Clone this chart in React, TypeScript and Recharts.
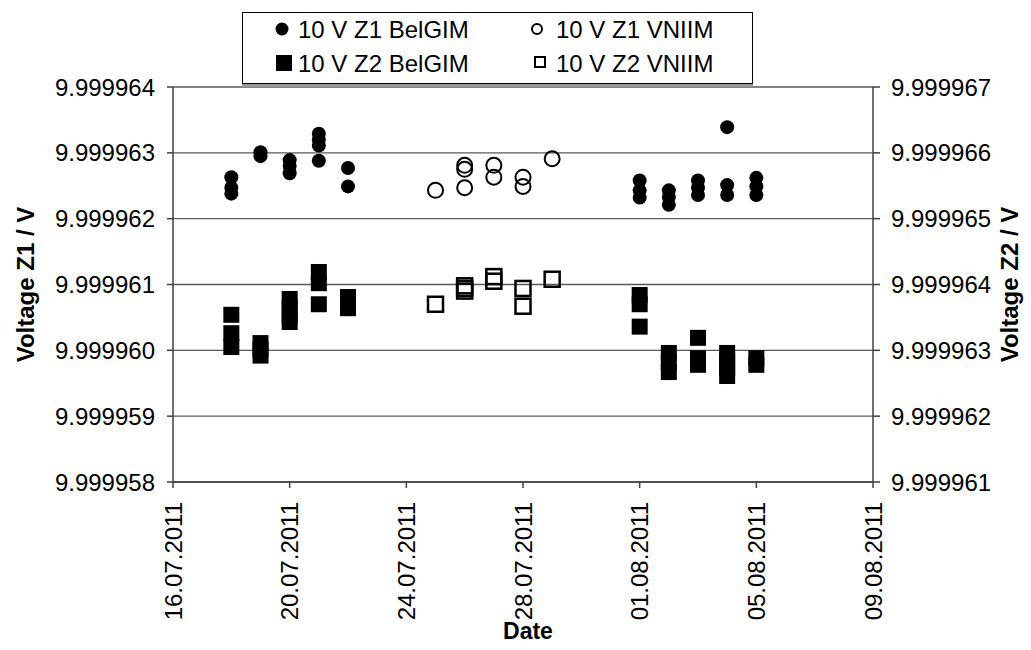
import React from 'react';
import { ScatterChart, Scatter, XAxis, YAxis, CartesianGrid, Label } from 'recharts';

const FONT = '"Liberation Sans", Arial, sans-serif';

// [date, voltage] pairs
const z1Belgim: [string, number][] = [
  ['18.07.2011', 9.99996263], ['18.07.2011', 9.99996247], ['18.07.2011', 9.99996238],
  ['19.07.2011', 9.99996301], ['19.07.2011', 9.99996295],
  ['20.07.2011', 9.99996289], ['20.07.2011', 9.9999628], ['20.07.2011', 9.99996269],
  ['21.07.2011', 9.99996329], ['21.07.2011', 9.9999632], ['21.07.2011', 9.99996311], ['21.07.2011', 9.99996288],
  ['22.07.2011', 9.99996277], ['22.07.2011', 9.99996249],
  ['01.08.2011', 9.99996258], ['01.08.2011', 9.99996243], ['01.08.2011', 9.99996232],
  ['02.08.2011', 9.99996243], ['02.08.2011', 9.99996233], ['02.08.2011', 9.99996221],
  ['03.08.2011', 9.99996258], ['03.08.2011', 9.99996247], ['03.08.2011', 9.99996236],
  ['04.08.2011', 9.99996339], ['04.08.2011', 9.99996251], ['04.08.2011', 9.99996236],
  ['05.08.2011', 9.99996262], ['05.08.2011', 9.99996249], ['05.08.2011', 9.99996236],
];

const z1Vniim: [string, number][] = [
  ['25.07.2011', 9.99996243],
  ['26.07.2011', 9.99996281], ['26.07.2011', 9.99996275], ['26.07.2011', 9.99996247],
  ['27.07.2011', 9.99996281], ['27.07.2011', 9.99996263],
  ['28.07.2011', 9.99996263], ['28.07.2011', 9.99996249],
  ['29.07.2011', 9.99996291],
];

const z2Belgim: [string, number][] = [
  ['18.07.2011', 9.99996354], ['18.07.2011', 9.99996326], ['18.07.2011', 9.99996305],
  ['19.07.2011', 9.99996311], ['19.07.2011', 9.99996302], ['19.07.2011', 9.99996292],
  ['20.07.2011', 9.99996378], ['20.07.2011', 9.99996366], ['20.07.2011', 9.99996353], ['20.07.2011', 9.99996343],
  ['21.07.2011', 9.99996419], ['21.07.2011', 9.99996402], ['21.07.2011', 9.9999637],
  ['22.07.2011', 9.99996381], ['22.07.2011', 9.99996364],
  ['01.08.2011', 9.99996384], ['01.08.2011', 9.9999637], ['01.08.2011', 9.99996336],
  ['02.08.2011', 9.99996296], ['02.08.2011', 9.99996282], ['02.08.2011', 9.99996267],
  ['03.08.2011', 9.99996319], ['03.08.2011', 9.99996288], ['03.08.2011', 9.99996278],
  ['04.08.2011', 9.99996296], ['04.08.2011', 9.99996284], ['04.08.2011', 9.99996273], ['04.08.2011', 9.99996261],
  ['05.08.2011', 9.99996288], ['05.08.2011', 9.99996278],
];

const z2Vniim: [string, number][] = [
  ['25.07.2011', 9.9999637],
  ['26.07.2011', 9.99996398], ['26.07.2011', 9.99996394], ['26.07.2011', 9.9999639],
  ['27.07.2011', 9.99996412], ['27.07.2011', 9.99996405],
  ['28.07.2011', 9.99996394], ['28.07.2011', 9.99996367],
  ['29.07.2011', 9.99996408],
];

const dateTicks = ['16.07.2011', '20.07.2011', '24.07.2011', '28.07.2011', '01.08.2011', '05.08.2011', '09.08.2011'];
const leftTicks = [9.999958, 9.999959, 9.99996, 9.999961, 9.999962, 9.999963, 9.999964];
const rightTicks = [9.999961, 9.999962, 9.999963, 9.999964, 9.999965, 9.999966, 9.999967];

const parseDate = (s: string) => {
  const [d, m, y] = s.split('.').map(Number);
  return Date.UTC(y, m - 1, d);
};

const fmtDate = (t: number) => {
  const d = new Date(t);
  const dd = String(d.getUTCDate()).padStart(2, '0');
  const mm = String(d.getUTCMonth() + 1).padStart(2, '0');
  return `${dd}.${mm}.${d.getUTCFullYear()}`;
};

const toPoints = (rows: [string, number][]) => rows.map(([d, v]) => ({ t: parseDate(d), v }));

const xTickValues = dateTicks.map(parseDate);

const FilledCircle = (p: any) => <circle cx={p.cx} cy={p.cy} r={7} fill="#000" />;
const OpenCircle = (p: any) => <circle cx={p.cx} cy={p.cy} r={7.5} fill="none" stroke="#000" strokeWidth={2} />;
const FilledSquare = (p: any) => <rect x={p.cx - 8} y={p.cy - 8} width={16} height={16} fill="#000" />;
const OpenSquare = (p: any) => <rect x={p.cx - 7.5} y={p.cy - 7.5} width={15} height={15} fill="none" stroke="#000" strokeWidth={2.5} />;

const DateTick = (props: any) => {
  const { x, y, payload } = props;
  return (
    <text
      transform={`translate(${x},${y}) rotate(-90)`}
      textAnchor="end"
      dominantBaseline="central"
      fontSize={24}
      fontFamily={FONT}
      fill="#000"
    >
      {fmtDate(payload.value)}
    </text>
  );
};

const axisTitle = (text: string, dx: number) => (props: any) => {
  const { x, y, height } = props.viewBox;
  const cx = x + dx;
  const cy = y + height / 2;
  return (
    <text
      transform={`translate(${cx},${cy}) rotate(-90)`}
      textAnchor="middle"
      dominantBaseline="central"
      fontSize={24}
      fontWeight="bold"
      fontFamily={FONT}
      fill="#000"
    >
      {text}
    </text>
  );
};

const dateTitle = (props: any) => {
  const { x, y, width } = props.viewBox;
  return (
    <text x={x + width / 2 + 5} y={y + 149} textAnchor="middle" dominantBaseline="central" fontSize={23} fontWeight="bold" fontFamily={FONT} fill="#000">
      Date
    </text>
  );
};

const LegendBox = () => (
  <div
    style={{
      position: 'absolute',
      left: 242,
      top: 12,
      width: 509,
      height: 70,
      border: '1px solid #000',
      boxShadow: '0 3px 0 #999',
      background: '#fff',
    }}
  >
    <svg width={509} height={70} style={{ display: 'block' }}>
      <g fontFamily={FONT} fontSize={24} fill="#000">
        <circle cx={39} cy={16} r={6.5} fill="#000" />
        <text x={55} y={16} dominantBaseline="central">10 V Z1 BelGIM</text>
        <rect x={33} y={42} width={16} height={16} fill="#000" />
        <text x={55} y={50} dominantBaseline="central">10 V Z2 BelGIM</text>
        <circle cx={294} cy={16} r={5} fill="none" stroke="#000" strokeWidth={2} />
        <text x={313} y={16} dominantBaseline="central">10 V Z1 VNIIM</text>
        <rect x={292} y={44} width={10} height={10} fill="none" stroke="#000" strokeWidth={2} />
        <text x={313} y={50} dominantBaseline="central">10 V Z2 VNIIM</text>
      </g>
    </svg>
  </div>
);

export default function App() {
  const tickStyle = { fontSize: 24, fontFamily: FONT, fill: '#000' };
  return (
    <div style={{ position: 'absolute', left: 0, top: 0, width: 1031, height: 650, background: '#fff' }}>
      <ScatterChart width={1031} height={650} margin={{ top: 87, right: 0, bottom: 0, left: 0 }}>
        <CartesianGrid yAxisId="left" vertical={false} stroke="#5a5a5a" strokeWidth={1.3} />
        <XAxis
          dataKey="t"
          type="number"
          domain={[xTickValues[0], xTickValues[xTickValues.length - 1]]}
          ticks={xTickValues}
          interval={0}
          height={168}
          tickSize={6}
          tickMargin={14}
          tick={<DateTick />}
          stroke="#404040"
          strokeWidth={1.5}
        >
          <Label content={dateTitle} />
        </XAxis>
        <YAxis
          yAxisId="left"
          dataKey="v"
          type="number"
          orientation="left"
          width={173}
          domain={[leftTicks[0], leftTicks[leftTicks.length - 1]]}
          ticks={leftTicks}
          interval={0}
          tickFormatter={(v: number) => v.toFixed(6)}
          tickSize={6}
          tickMargin={12}
          tick={tickStyle}
          stroke="#404040"
          strokeWidth={1.5}
        >
          <Label content={axisTitle('Voltage Z1 / V', 25)} />
        </YAxis>
        <YAxis
          yAxisId="right"
          dataKey="v"
          type="number"
          orientation="right"
          width={158}
          domain={[rightTicks[0], rightTicks[rightTicks.length - 1]]}
          ticks={rightTicks}
          interval={0}
          tickFormatter={(v: number) => v.toFixed(6)}
          tickSize={7}
          tickMargin={11}
          tick={tickStyle}
          stroke="#404040"
          strokeWidth={1.5}
        >
          <Label content={axisTitle('Voltage Z2 / V', 136)} />
        </YAxis>
        <Scatter name="10 V Z1 BelGIM" data={toPoints(z1Belgim)} yAxisId="left" shape={FilledCircle} isAnimationActive={false} />
        <Scatter name="10 V Z1 VNIIM" data={toPoints(z1Vniim)} yAxisId="left" shape={OpenCircle} isAnimationActive={false} />
        <Scatter name="10 V Z2 BelGIM" data={toPoints(z2Belgim)} yAxisId="right" shape={FilledSquare} isAnimationActive={false} />
        <Scatter name="10 V Z2 VNIIM" data={toPoints(z2Vniim)} yAxisId="right" shape={OpenSquare} isAnimationActive={false} />
      </ScatterChart>
      <LegendBox />
    </div>
  );
}
